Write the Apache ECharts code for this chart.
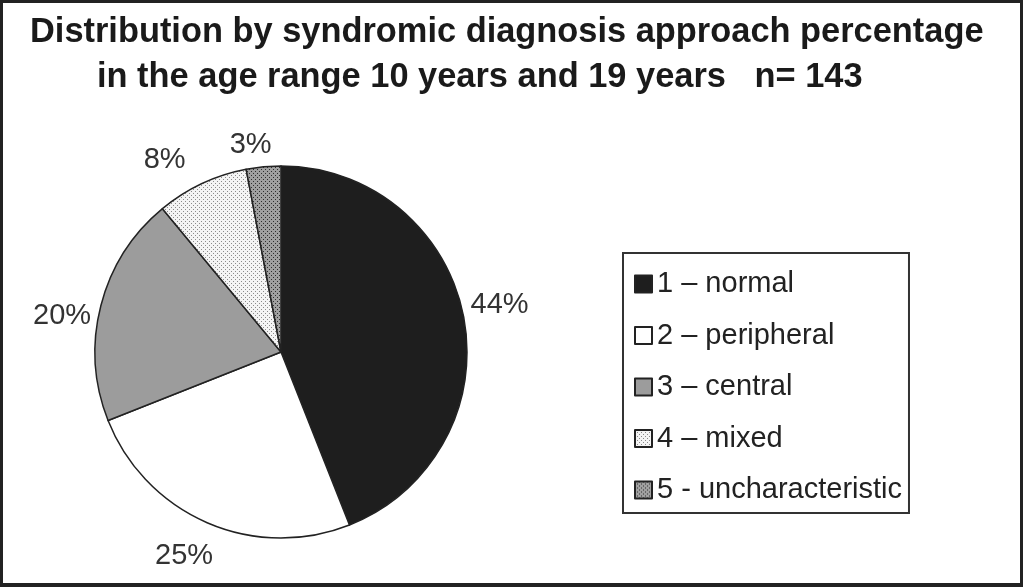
<!DOCTYPE html>
<html>
<head>
<meta charset="utf-8">
<script src="https://cdn.jsdelivr.net/npm/echarts@6/dist/echarts.min.js"></script>
<style>
  html, body { margin: 0; padding: 0; background: #222; }
  #main { position: absolute; left: 3px; top: 3px; width: 1017px; height: 580px; background: #fff; }
</style>
</head>
<body>
<div id="main"></div>
<script>
// 数据
var categories = ['1 \u2013 normal', '2 \u2013 peripheral', '3 \u2013 central', '4 \u2013 mixed', '5 - uncharacteristic'];
var percents = [44, 25, 20, 8, 3];

// 标签微调 (dx, dy)
var labelShift = [[-8, -10], [15, 24], [5, 13], [-7, -15], [14, -12]];

// 填充图案
function makePattern(bg, dot) {
  var c = document.createElement('canvas');
  c.width = 4; c.height = 4;
  var ctx = c.getContext('2d');
  ctx.fillStyle = bg;
  ctx.fillRect(0, 0, 4, 4);
  ctx.fillStyle = dot;
  ctx.fillRect(0, 0, 1, 1);
  ctx.fillRect(2, 2, 1, 1);
  return { image: c, repeat: 'repeat' };
}

var fills = [
  '#1e1e1e',
  '#ffffff',
  '#9c9c9c',
  makePattern('#f4f4f4', '#8a8a8a'),
  makePattern('#a0a0a0', '#2e2e2e')
];

var font = 'Liberation Sans, Arial, sans-serif';
var myChart = echarts.init(document.getElementById('main'));
var option = {
  animation: false,
  title: [{
    text: 'Distribution by syndromic diagnosis approach percentage',
    left: 22, top: 8,
    textStyle: { fontFamily: font, fontSize: 34.4, fontWeight: 'bold', color: '#1a1a1a' }
  }, {
    text: 'in the age range 10 years and 19 years   n= 143',
    left: 89, top: 53,
    textStyle: { fontFamily: font, fontSize: 34.4, fontWeight: 'bold', color: '#1a1a1a' }
  }],
  legend: {
    orient: 'vertical',
    left: 620, top: 250,
    data: categories,
    icon: 'rect',
    itemWidth: 17, itemHeight: 17,
    itemGap: 21.5,
    itemTextGap: 6,
    padding: [16, 7, 8, 11],
    borderColor: '#333', borderWidth: 2,
    textStyle: { fontFamily: font, fontSize: 29, color: '#222', lineHeight: 30 }
  },
  series: [{
    type: 'pie',
    center: [278, 349],
    radius: 186,
    startAngle: 90,
    clockwise: true,
    avoidLabelOverlap: false,
    data: categories.map(function (name, i) {
      return { name: name, value: percents[i], itemStyle: { color: fills[i] } };
    }),
    itemStyle: { borderColor: '#222', borderWidth: 1.5 },
    label: {
      show: true,
      position: 'outside',
      formatter: '{c}%',
      fontFamily: font, fontSize: 29, color: '#333'
    },
    labelLine: { show: false, length: 10, length2: 0 },
    labelLayout: function (params) {
      var s = labelShift[params.dataIndex];
      return { dx: s[0], dy: s[1] };
    },
    emphasis: { disabled: true }
  }]
};
myChart.setOption(option);
</script>
</body>
</html>
